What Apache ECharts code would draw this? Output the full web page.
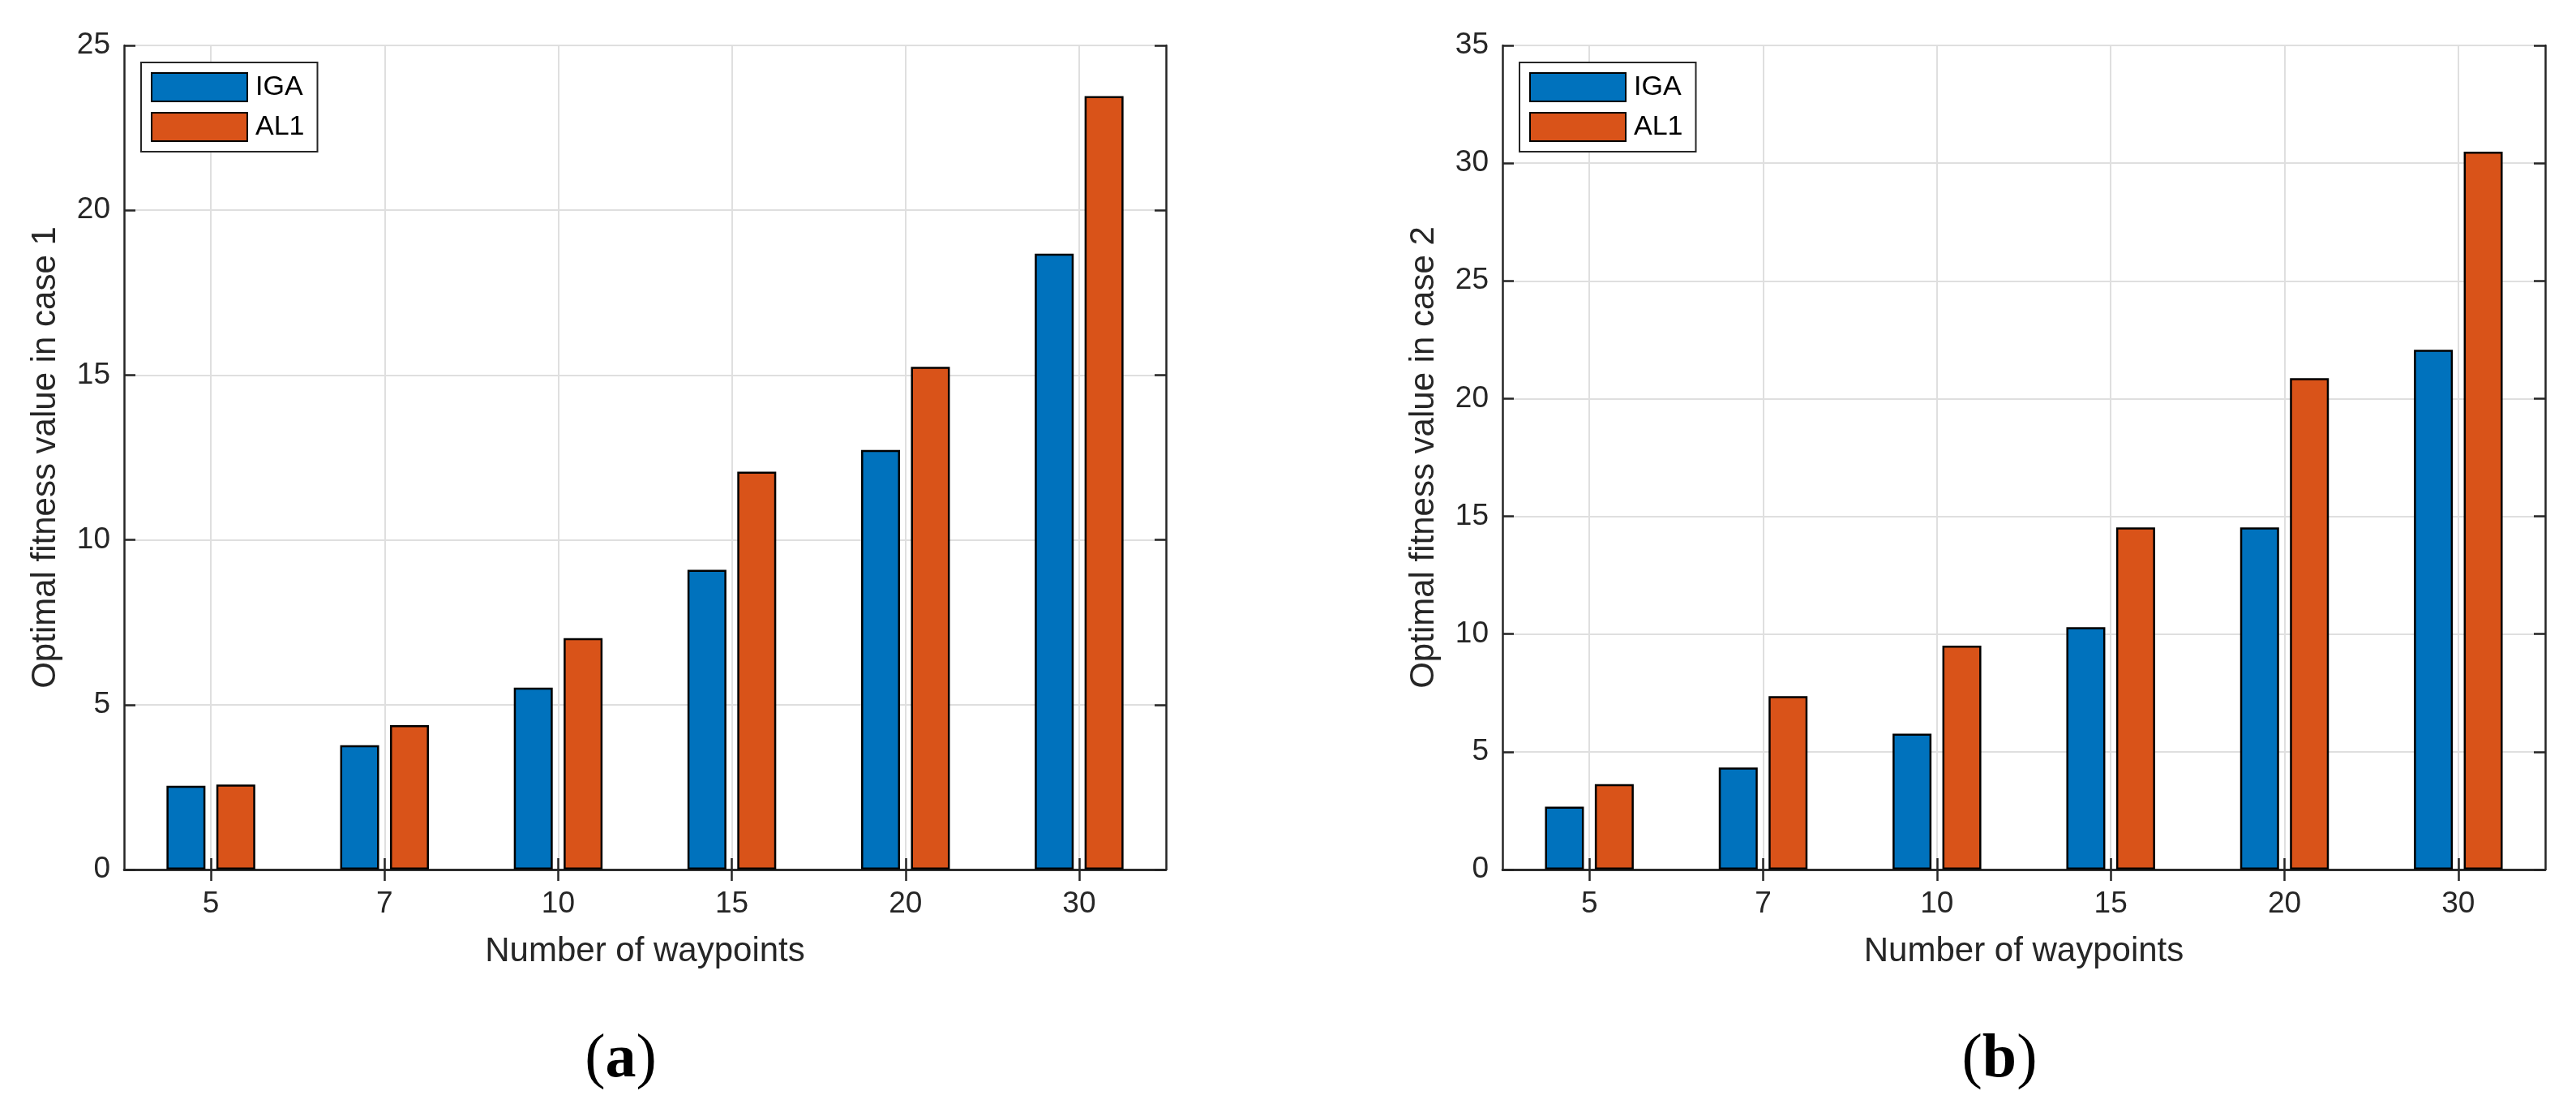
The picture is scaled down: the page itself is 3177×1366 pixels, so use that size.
<!DOCTYPE html>
<html><head><meta charset="utf-8">
<script src="https://cdn.jsdelivr.net/npm/echarts@6/dist/echarts.min.js"></script>
<style>html,body{margin:0;padding:0;background:#fff}#c{width:3177px;height:1366px}</style>
</head><body><div id="c"></div>
<script>
// ---- data ----
const categories = ['5', '7', '10', '15', '20', '30'];
const seriesNames = ['IGA', 'AL1'];
const case1IGA = [2.54, 3.77, 5.52, 9.09, 12.73, 18.68];
const case1AL1 = [2.58, 4.38, 7.02, 12.07, 15.25, 23.46];
const case2IGA = [2.67, 4.33, 5.77, 10.29, 14.53, 22.07];
const case2AL1 = [3.63, 7.36, 9.51, 14.53, 20.87, 30.49];
const case1Ticks = [0, 5, 10, 15, 20, 25];
const case2Ticks = [0, 5, 10, 15, 20, 25, 30, 35];
const xTitle = 'Number of waypoints';
const yTitles = ['Optimal fitness value in case 1', 'Optimal fitness value in case 2'];
const panelLabels = ['a', 'b'];

// ---- style ----
const F = '"Liberation Sans", Arial, Helvetica, sans-serif';
const AX = '#262626';
const GRID = '#dfdfdf';
const COLORS = ['#0072BD', '#D95319'];

const chart = echarts.init(document.getElementById('c'), null, {renderer: 'canvas'});

const grids = [
  {left: 153, top: 56, width: 1285, height: 1016},
  {left: 1853, top: 56, width: 1286, height: 1016}
];
const tickSets = [case1Ticks, case2Ticks];
const dataSets = [[case1IGA, case1AL1], [case2IGA, case2AL1]];

const xAxes = [], yAxes = [], series = [], legends = [], graphics = [];

grids.forEach((g, gi) => {
  const ticks = tickSets[gi];
  const step = ticks[1] - ticks[0];
  xAxes.push({
    type: 'category', gridIndex: gi, data: categories, position: 'bottom',
    axisLine: {show: true, lineStyle: {color: AX, width: 2.5}},
    axisTick: {show: true, inside: true, length: 14, alignWithLabel: true, interval: 0, lineStyle: {color: AX, width: 2.5}},
    axisLabel: {show: true, interval: 0, margin: 24, fontSize: 37, color: AX, fontFamily: F},
    splitLine: {show: true, alignWithLabel: true, interval: 0, lineStyle: {color: GRID, width: 2}},
    name: xTitle, nameLocation: 'middle', nameGap: 80,
    nameTextStyle: {fontSize: 42, color: AX, fontFamily: F}
  });
  xAxes.push({
    type: 'category', gridIndex: gi, data: categories, position: 'top',
    axisLine: {show: true, lineStyle: {color: AX, width: 2.5}},
    axisTick: {show: true, inside: true, length: 14, alignWithLabel: true, interval: 0, lineStyle: {color: AX, width: 2.5}},
    axisLabel: {show: false},
    splitLine: {show: false}
  });
  yAxes.push({
    type: 'value', gridIndex: gi, position: 'left',
    min: ticks[0], max: ticks[ticks.length - 1], interval: step,
    axisLine: {show: true, lineStyle: {color: AX, width: 2.5}},
    axisTick: {show: true, inside: true, length: 14, lineStyle: {color: AX, width: 2.5}},
    axisLabel: {show: true, margin: 17, fontSize: 37, color: AX, fontFamily: F},
    splitLine: {show: true, lineStyle: {color: GRID, width: 2}},
    name: yTitles[gi], nameLocation: 'middle', nameGap: 76, nameRotate: 90,
    nameTextStyle: {fontSize: 42, color: AX, fontFamily: F}
  });
  yAxes.push({
    type: 'value', gridIndex: gi, position: 'right',
    min: ticks[0], max: ticks[ticks.length - 1], interval: step,
    axisLine: {show: true, lineStyle: {color: AX, width: 2.5}},
    axisTick: {show: true, inside: true, length: 14, lineStyle: {color: AX, width: 2.5}},
    axisLabel: {show: false},
    splitLine: {show: false}
  });
  seriesNames.forEach((name, si) => {
    series.push({
      type: 'bar', name: name,
      xAxisIndex: gi * 2, yAxisIndex: gi * 2,
      data: dataSets[gi][si],
      barWidth: 48, barGap: '28%',
      itemStyle: {color: COLORS[si], borderColor: '#000', borderWidth: 2.5},
      emphasis: {disabled: true}
    });
  });
  legends.push({
    left: g.left + 21, top: 77, orient: 'vertical',
    itemWidth: 118, itemHeight: 35, itemGap: 12,
    padding: [12, 16, 12, 12],
    borderColor: AX, borderWidth: 2, backgroundColor: '#fff',
    icon: 'rect', selectedMode: false,
    textStyle: {fontSize: 34, color: '#000', fontFamily: F, padding: [0, 0, 0, 5]},
    data: seriesNames
  });
  graphics.push({
    type: 'text',
    left: 'center',
    x: 0, y: 0,
    style: {
      text: '{p|(}{b|' + panelLabels[gi] + '}{p|)}',
      x: g.left + g.width / 2 - 30, y: 1307,
      textAlign: 'center', textVerticalAlign: 'middle',
      rich: {
        p: {fontFamily: '"Liberation Serif", "Times New Roman", serif', fontSize: 76, fill: '#000'},
        b: {fontFamily: '"Liberation Serif", "Times New Roman", serif', fontSize: 76, fontWeight: 'bold', fill: '#000'}
      }
    }
  });
});

graphics.forEach(gr => { delete gr.left; });

chart.setOption({
  animation: false,
  backgroundColor: '#fff',
  grid: grids.map(g => Object.assign({containLabel: false}, g)),
  xAxis: xAxes,
  yAxis: yAxes,
  legend: legends,
  series: series,
  graphic: graphics
});
</script></body></html>
